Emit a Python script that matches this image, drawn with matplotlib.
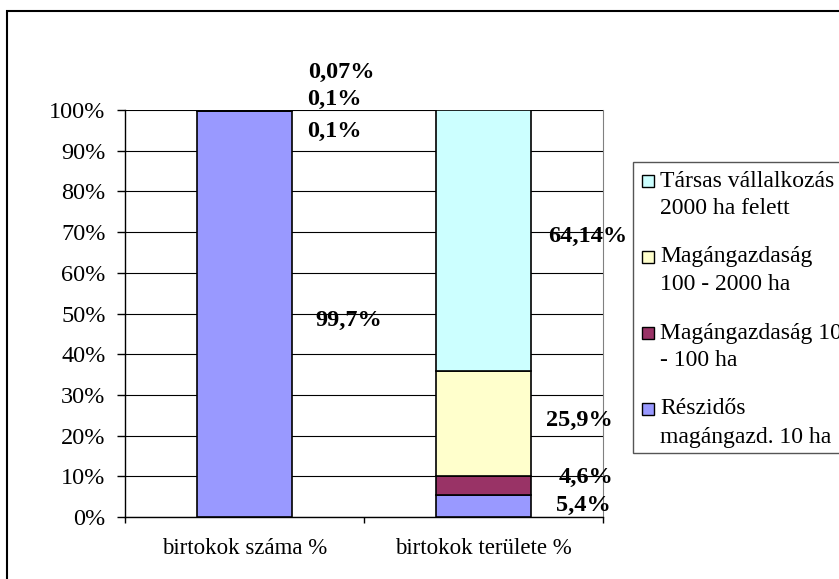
import numpy as np
import matplotlib
matplotlib.use('Agg')
import matplotlib.pyplot as plt
from matplotlib.patches import Rectangle

plt.rcParams['font.family'] = ['Liberation Serif', 'DejaVu Serif']

# adatok
kategoriak = ['birtokok száma %', 'birtokok területe %']
sorozatok = ['Részidős\nmagángazd. 10 ha', 'Magángazdaság 10\n- 100 ha',
             'Magángazdaság\n100 - 2000 ha', 'Társas vállalkozás\n2000 ha felett']
szinek = ['#9999FF', '#993366', '#FFFFCC', '#CCFFFF']
szama = [99.7, 0.1, 0.1, 0.07]
terulete = [5.4, 4.6, 25.9, 64.14]
szama_felirat = ['99,7%', '0,1%', '0,1%', '0,07%']
terulete_felirat = ['5,4%', '4,6%', '25,9%', '64,14%']

# feliratok helye (x, y) az adattengelyeken
szama_pos = [(0.437, 48.4), (0.374, 94.8), (0.374, 102.5), (0.404, 109.3)]
terulete_pos = [(1.416, 2.9), (1.429, 9.8), (1.400, 23.8), (1.437, 69.0)]

W, H = 839, 579
fig = plt.figure(figsize=(W / 100, H / 100), dpi=100)
ax = fig.add_axes([125 / W, 1 - 517 / H, (603 - 125) / W, (517 - 110) / H])

ertekek = np.array([szama, terulete])
ertekek = ertekek / ertekek.sum(axis=1, keepdims=True) * 100
x = np.arange(len(kategoriak))
alja = np.zeros(len(kategoriak))
for i in range(len(sorozatok)):
    ax.bar(x, ertekek[:, i], 0.4, bottom=alja, color=szinek[i],
           edgecolor='black', linewidth=1.2, zorder=3)
    alja += ertekek[:, i]

for feliratok, helyek in [(szama_felirat, szama_pos), (terulete_felirat, terulete_pos)]:
    for t, (px, py) in zip(feliratok, helyek):
        ax.text(px, py, t, ha='center', va='center', fontsize=17.5,
                fontweight='bold', zorder=5, clip_on=False)

ax.set_xlim(-0.5, 1.5)
ax.set_ylim(0, 100)
ax.set_yticks(np.arange(0, 101, 10))
ax.set_yticklabels(['%d%%' % v for v in range(0, 101, 10)], fontsize=17.5)
ax.yaxis.grid(True, color='black', linewidth=0.8, zorder=0)
ax.set_axisbelow(True)
ax.tick_params(axis='y', direction='out', length=6, width=1, pad=8)

ax.set_xticks([-0.5, 0.5, 1.5])
ax.set_xticklabels([])
ax.set_xticks(x, minor=True)
ax.set_xticklabels(kategoriak, minor=True, fontsize=16.5)
ax.tick_params(axis='x', which='major', direction='out', length=4, width=1)
ax.tick_params(axis='x', which='minor', length=0, pad=15)

ax.spines['top'].set_visible(False)
ax.spines['right'].set_color('#808080')
ax.spines['left'].set_linewidth(1)
ax.spines['bottom'].set_linewidth(1)

# diagram kerete
fig.add_artist(Rectangle((7 / W, -0.1), 1.2, 1.1 - 11 / H, transform=fig.transFigure,
                         fill=False, edgecolor='black', linewidth=1.5))

# jelmagyarázat
fig.add_artist(Rectangle((633 / W, 1 - 453 / H), 1.0, (453 - 162) / H,
                         transform=fig.transFigure, facecolor='white',
                         edgecolor='#555555', linewidth=1))
for k, i in enumerate(range(len(sorozatok) - 1, -1, -1)):
    yc = 181 + 76 * k
    fig.add_artist(Rectangle((642 / W, 1 - (yc + 6) / H), 12 / W, 12 / H,
                             transform=fig.transFigure, facecolor=szinek[i],
                             edgecolor='black', linewidth=1))
    for j, sor in enumerate(sorozatok[i].split('\n')):
        fig.text(660 / W, 1 - (yc + 28 * j) / H, sor, fontsize=17,
                 ha='left', va='center')

fig.savefig('out.png', dpi=100)
